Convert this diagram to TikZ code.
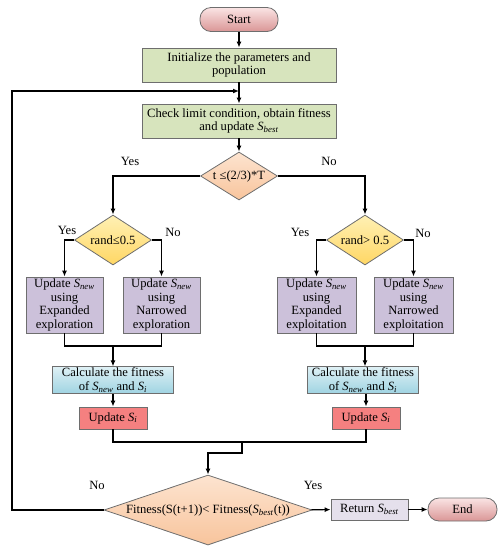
\documentclass[tikz,border=0pt]{standalone}
\usepackage{fontspec}
\setmainfont{Liberation Serif}
\usetikzlibrary{shapes.geometric,arrows.meta}
\definecolor{greenbox}{RGB}{215,228,189}
\definecolor{purplebox}{RGB}{204,193,218}
\definecolor{redbox}{RGB}{245,128,128}
\definecolor{returnbox}{RGB}{229,224,236}
\definecolor{pinktop}{RGB}{250,228,228}
\definecolor{pinkbot}{RGB}{218,150,150}
\definecolor{peachtop}{RGB}{253,228,208}
\definecolor{peachbot}{RGB}{248,196,156}
\definecolor{yellowtop}{RGB}{255,240,180}
\definecolor{yellowbot}{RGB}{255,215,100}
\definecolor{bluetop}{RGB}{222,240,245}
\definecolor{bluebot}{RGB}{160,212,226}
\definecolor{edge}{RGB}{110,110,110}
\newcommand{\Svar}[1]{\textit{S}\textsubscript{\textit{#1}}}

\begin{document}
\begin{tikzpicture}[x=1pt,y=-1pt,font=\fontsize{12.6}{13.6}\selectfont,
  box/.style={draw=edge,line width=0.8pt,inner sep=1pt,align=center},
  terminal/.style={draw=edge,line width=0.8pt,rounded corners=11pt,top color=pinktop,bottom color=pinkbot,minimum width=78pt,minimum height=24pt},
  decide/.style={draw=edge,line width=0.8pt,diamond,inner sep=0pt,aspect=1.6},
  arr/.style={line width=1.2pt,-{Latex[length=6pt,width=5pt]}},
  lin/.style={line width=1.2pt}]
\useasboundingbox (0,0) rectangle (501,550);

% top
\node[terminal] (start) at (239,19.5) {Start};
\node[box,fill=greenbox,minimum width=194pt,minimum height=34pt] (init) at (239,65) {Initialize the parameters and\\population};
\node[box,fill=greenbox,minimum width=194pt,minimum height=34pt] (check) at (239,121) {Check limit condition, obtain fitness\\and update \Svar{best}};
\node[decide,top color=peachtop,bottom color=peachbot,minimum width=77pt,minimum height=48pt] (cond) at (239,176) {t ≤(2/3)*T};

% left branch
\node[decide,top color=yellowtop,bottom color=yellowbot,minimum width=77pt,minimum height=50pt] (randL) at (113,240) {rand≤0.5};
\node[box,fill=purplebox,minimum width=77pt,minimum height=56pt] (expL) at (64.5,305) {Update \Svar{new}\\using\\Expanded\\exploration};
\node[box,fill=purplebox,minimum width=77pt,minimum height=56pt] (narL) at (161.5,305) {Update \Svar{new}\\using\\Narrowed\\exploration};
\coordinate (mergeL) at (113,346);
\node[box,top color=bluetop,bottom color=bluebot,minimum width=121pt,minimum height=26pt] (fitL) at (113,380) {Calculate the fitness\\of \Svar{new} and \Svar{i}};
\node[box,fill=redbox,minimum width=68pt,minimum height=22pt] (updL) at (113,418) {Update \Svar{i}};

% right branch
\node[decide,top color=yellowtop,bottom color=yellowbot,minimum width=77pt,minimum height=50pt] (randR) at (365,240) {rand> 0.5};
\node[box,fill=purplebox,minimum width=79pt,minimum height=56pt] (expR) at (316.5,305) {Update \Svar{new}\\using\\Expanded\\exploitation};
\node[box,fill=purplebox,minimum width=79pt,minimum height=56pt] (narR) at (413.5,305) {Update \Svar{new}\\using\\Narrowed\\exploitation};
\coordinate (mergeR) at (365,346);
\node[box,top color=bluetop,bottom color=bluebot,minimum width=111pt,minimum height=26pt] (fitR) at (363,380) {Calculate the fitness\\of \Svar{new} and \Svar{i}};
\node[box,fill=redbox,minimum width=68pt,minimum height=22pt] (updR) at (366,418) {Update \Svar{i}};

% bottom
\coordinate (mergeB) at (242,442);
\coordinate (drop) at (242,453);
\node[decide,top color=peachtop,bottom color=peachbot,aspect=3,minimum width=208pt,minimum height=70pt] (stop) at (208,510) {Fitness(S(t+1))< Fitness(\Svar{best}(t))};
\node[box,fill=returnbox,minimum width=77pt,minimum height=21pt] (ret) at (369.5,509.5) {Return \Svar{best}};
\node[terminal,minimum width=69pt,minimum height=23pt] (end) at (462.5,509.5) {End};
\coordinate (back) at (12,510);
\coordinate (join) at (239,91);

% labels
\node (yes1) at (130,161) {Yes};
\node (no1) at (329,161) {No};
\node (yes2) at (67,230) {Yes};
\node (no2) at (173,232) {No};
\node (yes3) at (300,232) {Yes};
\node (no3) at (423,233) {No};
\node (no4) at (97,485) {No};
\node (yes4) at (313,485) {Yes};

% connectors
\draw[arr] (start) -- (init);
\draw[arr] (init) -- (check);
\draw[arr] (check) -- (cond);
\draw[arr] (cond.west) -| (randL.north);
\draw[arr] (cond.east) -| (randR.north);
\draw[arr] (randL.west) -| (expL.north);
\draw[arr] (randL.east) -| (narL.north);
\draw[arr] (randR.west) -| (expR.north);
\draw[arr] (randR.east) -| (narR.north);
\draw[lin] (expL.south) |- (mergeL) -| (narL.south);
\draw[lin] (expR.south) |- (mergeR) -| (narR.south);
\draw[arr] (mergeL) -- (fitL);
\draw[arr] (mergeR) -- (mergeR |- fitR.north);
\draw[arr] (fitL) -- (updL);
\draw[arr] (fitR.south -| updR) -- (updR);
\draw[lin] (updL.south) |- (mergeB) -| (updR.south);
\draw[arr] (mergeB) -- (drop) -| (stop.north);
\draw[arr] (stop) -- (ret);
\draw[arr] (ret) -- (end);
\draw[arr] (stop.west) -- (back) |- (join);
\end{tikzpicture}
\end{document}
